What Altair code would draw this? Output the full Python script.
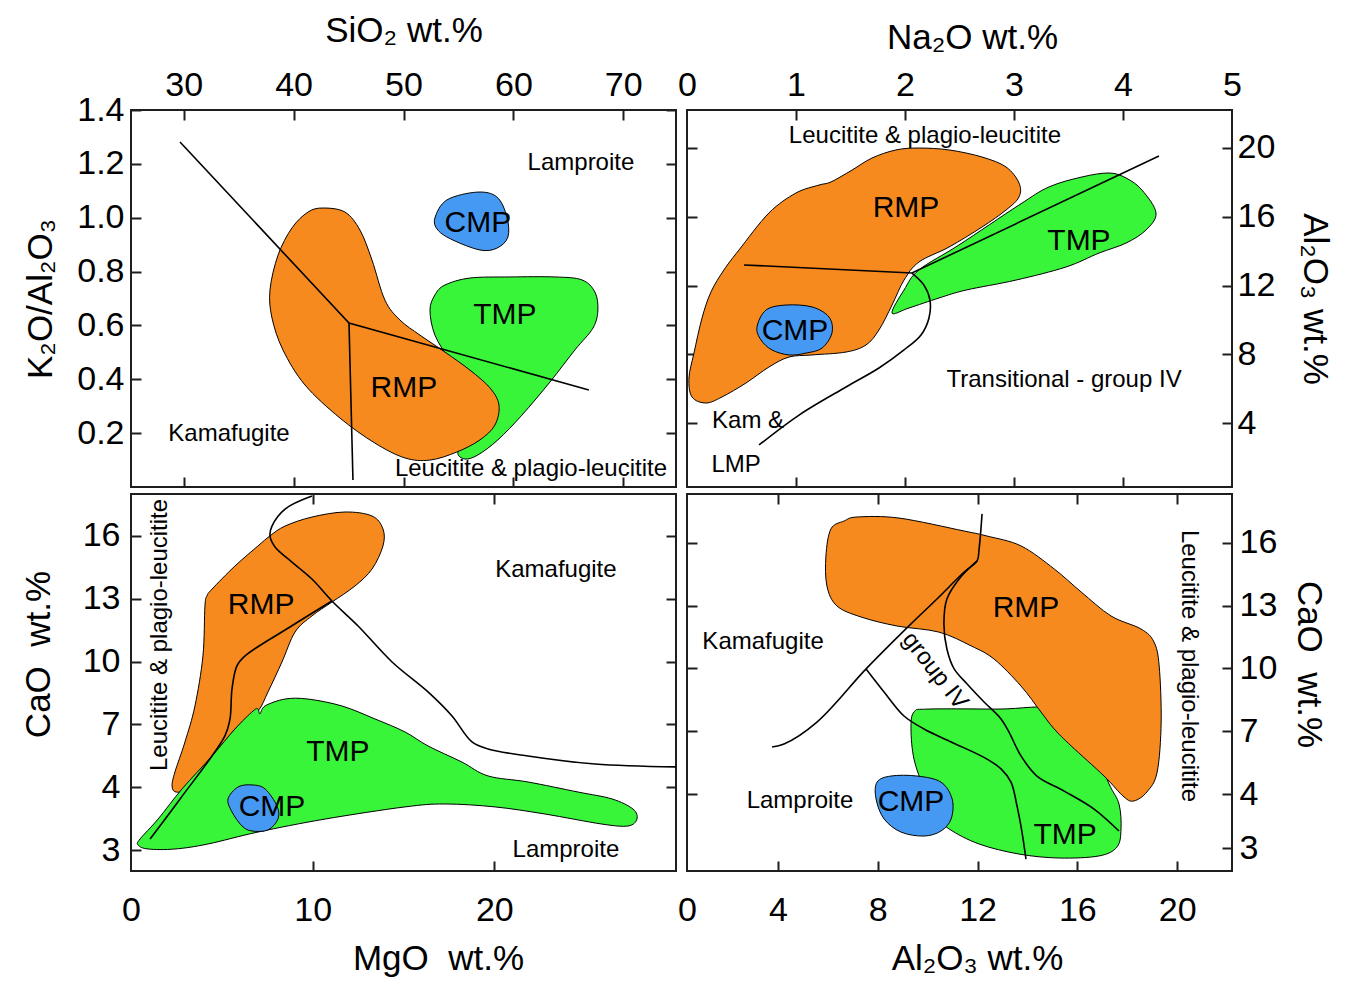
import altair as alt
import pandas as pd

FONT = "Liberation Sans"
ORANGE = "#F78A1E"
GREEN = "#38F53A"
BLUE = "#4599F2"
INK = "#1e1e1e"
W, H = 545, 377

# ---------------- Top-left: SiO2 vs K2O/Al2O3 ----------------
tl_rmp_x = [42.67, 44.67, 46.04, 47.13, 48.31, 49.68, 51.50, 53.77, 56.05, 57.87, 58.69, 58.32, 56.96,
            54.86, 52.41, 50.13, 47.40, 44.22, 41.03, 39.03, 38.03, 37.85, 38.58, 39.85, 41.31]
tl_rmp_y = [1.036, 1.021, 0.954, 0.843, 0.694, 0.620, 0.564, 0.501, 0.434, 0.368, 0.304, 0.230, 0.175,
            0.130, 0.100, 0.108, 0.163, 0.256, 0.379, 0.509, 0.628, 0.732, 0.861, 0.962, 1.021]
tl_tmp_x = [53.77, 56.05, 59.69, 63.78, 66.24, 67.42, 67.69, 67.24, 65.60, 63.33, 60.78, 58.59, 56.77,
            55.59, 54.95, 56.05, 56.77, 56.05, 54.23, 52.86, 52.41, 52.86]
tl_tmp_y = [0.750, 0.776, 0.780, 0.780, 0.769, 0.724, 0.657, 0.590, 0.509, 0.390, 0.267, 0.175, 0.119,
            0.104, 0.130, 0.193, 0.286, 0.379, 0.472, 0.564, 0.657, 0.713]
tl_cmp_x = [52.86, 53.95, 56.68, 58.50, 59.41, 59.50, 58.50, 56.96, 54.50, 53.13]
tl_cmp_y = [0.999, 1.066, 1.095, 1.077, 1.003, 0.928, 0.887, 0.880, 0.917, 0.954]
tl_line1_x = [29.66, 45.04, 66.87]
tl_line1_y = [1.281, 0.609, 0.360]
tl_line2_x = [45.04, 45.40]
tl_line2_y = [0.609, 0.026]
tl_text = ["Lamproite", "CMP", "TMP", "RMP", "Kamafugite", "Leucitite & plagio-leucitite"]
tl_text_x = [66.15, 56.77, 59.23, 50.04, 34.12, 61.60]
tl_text_y = [1.203, 0.980, 0.639, 0.368, 0.197, 0.067]
tl_text_fs = [24, 30, 30, 30, 24, 24]
tl_text_ang = [0, 0, 0, 0, 0, 0]

# ---------------- Top-right: Na2O vs Al2O3 ----------------
tr_rmp_x = [0.046, 0.018, 0.064, 0.138, 0.220, 0.339, 0.477, 0.752, 1.000, 1.211, 1.321, 1.514, 1.697,
            1.917, 2.128, 2.404, 2.706, 2.927, 3.046, 3.046, 2.927, 2.706, 2.404, 2.128, 1.991, 1.881,
            1.761, 1.642, 1.459, 1.147, 0.936, 0.752, 0.541, 0.321, 0.174]
tr_rmp_y = [5.53, 6.63, 8.08, 10.12, 11.63, 12.91, 14.07, 16.22, 17.38, 17.84, 18.02, 18.71, 19.41,
            19.88, 19.99, 19.88, 19.47, 18.89, 17.96, 17.15, 16.39, 15.40, 14.24, 13.37, 12.32, 10.87,
            9.42, 8.55, 8.14, 7.97, 7.85, 7.27, 6.34, 5.53, 5.18]
tr_tmp_x = [1.881, 1.991, 2.128, 2.495, 3.046, 3.321, 3.624, 3.872, 4.028, 4.174, 4.303, 4.211, 4.028,
            3.780, 3.477, 3.018, 2.560, 2.312, 2.037]
tr_tmp_y = [10.41, 11.74, 12.91, 14.36, 16.68, 17.73, 18.31, 18.54, 18.25, 17.55, 16.22, 15.23, 14.47,
            13.89, 13.08, 12.32, 11.74, 11.28, 10.70]
tr_cmp_x = [0.642, 0.725, 0.908, 1.147, 1.303, 1.330, 1.239, 1.092, 0.936, 0.780, 0.679]
tr_cmp_y = [9.59, 10.58, 10.87, 10.76, 10.17, 9.25, 8.37, 8.08, 7.97, 8.26, 8.84]
tr_line1_x = [0.523, 2.064, 4.330]
tr_line1_y = [13.20, 12.73, 19.53]
tr_line2_x = [2.064, 2.174, 2.229, 2.220, 2.147, 1.991, 1.761, 1.459, 1.028, 0.661]
tr_line2_y = [12.73, 12.03, 11.16, 10.12, 9.13, 8.26, 7.21, 6.11, 4.48, 2.74]
tr_text = ["Leucitite & plagio-leucitite", "RMP", "TMP", "CMP", "Transitional - group IV", "Kam &", "LMP"]
tr_text_x = [2.183, 2.009, 3.596, 0.991, 3.459, 0.560, 0.450]
tr_text_y = [20.69, 16.51, 14.59, 9.36, 6.52, 4.13, 1.58]
tr_text_fs = [24, 30, 30, 30, 24, 24, 24]
tr_text_ang = [0, 0, 0, 0, 0, 0, 0]

# ---------------- Bottom-left: MgO vs CaO ----------------
bl_rmp_x = [4.18, 4.46, 5.72, 6.99, 7.65, 8.48, 9.96, 11.78, 13.27, 13.87, 13.87, 13.27, 12.33, 11.06,
            9.96, 9.03, 8.31, 7.54, 6.99, 6.00, 4.62, 3.14, 2.48, 2.26, 2.42, 2.97, 3.52, 3.96, 4.07]
bl_rmp_y = [13.13, 13.46, 14.56, 15.52, 16.00, 16.47, 16.90, 17.14, 16.95, 16.33, 15.52, 14.42, 13.61,
            12.84, 12.18, 11.41, 9.98, 8.55, 7.64, 7.02, 5.59, 4.01, 3.77, 4.06, 4.73, 6.16, 7.88, 10.27,
            12.65]
bl_tmp_x = [0.50, 1.49, 2.81, 4.46, 5.72, 6.72, 6.99, 7.10, 7.38, 8.48, 9.74, 11.61, 13.43, 15.08, 16.35,
            18.22, 19.65, 21.85, 24.61, 26.48, 27.63, 27.85, 27.36, 25.93, 22.79, 20.04, 17.28, 15.08,
            10.68, 6.99, 4.24, 2.42, 0.94, 0.39]
bl_tmp_y = [1.53, 2.48, 3.92, 5.49, 6.78, 7.64, 7.73, 7.50, 7.88, 8.21, 8.21, 7.88, 7.26, 6.64, 5.97,
            5.20, 4.54, 4.25, 3.77, 3.44, 2.96, 2.48, 2.15, 2.24, 2.72, 3.06, 3.20, 3.06, 2.48, 1.86, 1.29,
            1.05, 1.05, 1.24]
bl_cmp_x = [5.34, 5.89, 6.66, 7.38, 8.04, 8.09, 7.54, 6.66, 6.11, 5.56]
bl_cmp_y = [3.44, 4.01, 4.11, 3.92, 3.10, 2.48, 1.96, 1.91, 2.15, 2.82]
bl_line1_x = [1.05, 2.70, 5.17, 5.45, 5.56, 5.83, 6.28, 8.75, 11.06]
bl_line1_y = [1.53, 3.44, 6.45, 7.26, 8.69, 9.79, 10.27, 11.65, 12.89]
bl_line2_x = [9.96, 8.48, 7.76, 7.65, 7.93, 8.86, 9.96, 11.06, 12.50, 14.37, 16.35, 17.67, 18.77, 19.65,
              21.85, 25.54, 30.0]
bl_line2_y = [17.90, 17.28, 16.47, 16.00, 15.47, 14.75, 13.94, 12.89, 11.70, 9.98, 8.55, 7.40, 6.16,
              5.83, 5.49, 5.11, 4.97]
bl_text = ["RMP", "Kamafugite", "TMP", "CMP", "Lamproite", "Leucitite & plagio-leucitite"]
bl_text_x = [7.16, 23.39, 11.39, 7.76, 23.94, 1.60]
bl_text_y = [12.70, 14.37, 5.68, 3.06, 1.00, 11.27]
bl_text_fs = [30, 24, 30, 30, 24, 24]
bl_text_ang = [0, 0, 0, 0, 0, 270]

# ---------------- Bottom-right: Al2O3 vs CaO ----------------
br_rmp_x = [6.12, 6.65, 7.17, 8.85, 11.46, 12.38, 13.74, 15.07, 16.15, 17.35, 18.55, 19.07, 19.28,
            19.36, 19.20, 18.79, 18.27, 17.87, 17.07, 15.75, 15.07, 14.54, 13.74, 12.66, 11.74, 10.45,
            8.77, 7.33, 6.36, 5.96, 5.92]
br_rmp_y = [16.67, 17.05, 17.24, 17.19, 16.57, 16.33, 15.86, 14.76, 13.66, 12.51, 11.89, 11.27, 10.12,
            7.44, 5.05, 4.10, 3.67, 3.86, 4.86, 6.30, 7.11, 7.92, 9.16, 10.45, 11.08, 11.74, 12.03, 12.46,
            12.99, 13.94, 15.38]
br_tmp_x = [9.45, 10.05, 12.86, 15.27, 16.47, 17.27, 17.67, 17.75, 17.59, 16.87, 15.27, 13.66, 12.06,
            10.86, 10.25, 9.85, 9.45, 9.33]
br_tmp_y = [7.92, 8.06, 8.06, 8.06, 6.63, 4.48, 3.52, 2.33, 1.47, 1.04, 0.94, 1.13, 1.61, 2.33, 3.04,
            4.24, 5.67, 7.11]
br_cmp_x = [7.97, 8.53, 9.57, 10.53, 10.98, 10.94, 10.53, 9.85, 8.93, 8.25, 7.93]
br_cmp_y = [4.57, 4.86, 4.86, 4.57, 3.76, 2.81, 2.23, 1.99, 2.18, 2.81, 3.76]
br_line1_x = [3.76, 4.24, 5.56, 7.53, 9.33, 10.37, 11.46, 11.98, 12.06, 12.18]
br_line1_y = [6.25, 6.39, 7.44, 9.98, 12.13, 13.32, 14.61, 15.14, 15.71, 17.39]
br_line2_x = [7.53, 8.25, 9.05, 9.85, 10.94, 12.38, 12.94, 13.34, 13.58, 13.78, 13.94]
br_line2_y = [9.98, 8.88, 7.73, 7.11, 6.49, 5.67, 5.20, 4.57, 3.43, 2.18, 0.89]
br_line3_x = [11.98, 11.26, 10.77, 10.65, 10.77, 11.06, 11.58, 12.26, 12.94, 13.26, 13.74, 14.38,
              15.47, 16.67, 17.67]
br_line3_y = [15.14, 14.28, 13.32, 12.13, 10.93, 9.98, 9.26, 8.40, 7.59, 6.96, 5.82, 4.86, 4.14, 3.28,
              2.23]
br_text = ["RMP", "Kamafugite", "group IV", "Lamproite", "CMP", "TMP", "Leucitite & plagio-leucitite"]
br_text_x = [13.94, 3.40, 10.29, 4.88, 9.33, 15.51, 20.48]
br_text_y = [12.89, 11.27, 9.88, 3.67, 3.62, 2.04, 10.12]
br_text_fs = [30, 24, 24, 24, 30, 30, 24]
br_text_ang = [0, 0, 52, 0, 0, 0, 90]


def pts(xs, ys):
    return pd.DataFrame({"x": xs, "y": ys, "i": list(range(len(xs)))})


def lab_axis(orient, values, title, label_pad, title_pad, **kw):
    return alt.Axis(orient=orient, values=values, title=title, ticks=False, tickSize=0, domain=False,
                    grid=False, labelFont=FONT, labelFontSize=34, labelColor="black", labelFlush=False,
                    labelOverlap=False, labelPadding=label_pad, titleFont=FONT, titleFontSize=35,
                    titleFontWeight="normal", titleColor="black", titlePadding=title_pad, **kw)


def tick_axis(orient, values):
    return alt.Axis(orient=orient, values=values, title=None, labels=False, domain=False, grid=False,
                    ticks=True, tickSize=10, tickWidth=2, tickColor=INK, offset=-10)


def panel(xsc, ysc, polys, lines, texts, xaxes, yaxes):
    layers = []
    for xs, ys, col in polys:
        layers.append(
            alt.Chart(pts(xs, ys)).mark_line(fill=col, stroke="black", strokeWidth=1,
                                             interpolate="cardinal-closed").encode(
                x=alt.X("x:Q", scale=xsc, axis=None),
                y=alt.Y("y:Q", scale=ysc, axis=None),
                order=alt.Order("i:Q")))
    for xs, ys, interp in lines:
        layers.append(
            alt.Chart(pts(xs, ys)).mark_line(color="black", strokeWidth=1.6, interpolate=interp).encode(
                x=alt.X("x:Q", scale=xsc, axis=None),
                y=alt.Y("y:Q", scale=ysc, axis=None),
                order=alt.Order("i:Q")))
    labels, tx, ty, fs, ang = texts
    tdf = pd.DataFrame({"label": labels, "x": tx, "y": ty, "fs": fs, "ang": ang})
    layers.append(
        alt.Chart(tdf).mark_text(font=FONT, color="black", align="center", baseline="middle").encode(
            x=alt.X("x:Q", scale=xsc, axis=None),
            y=alt.Y("y:Q", scale=ysc, axis=None),
            text="label:N",
            size=alt.Size("fs:Q", scale=None),
            angle=alt.Angle("ang:Q", scale=None)))
    cdf = pts(lines[0][0], lines[0][1])
    for xa, ya in zip(xaxes, yaxes):
        layers.append(
            alt.Chart(cdf).mark_point(opacity=0).encode(
                x=alt.X("x:Q", scale=xsc, axis=xa),
                y=alt.Y("y:Q", scale=ysc, axis=ya)))
    return alt.layer(*layers).resolve_axis(x="independent", y="independent").properties(width=W, height=H)


# Top-left
tl_xs = alt.Scale(domain=[25.2, 74.8], nice=False, zero=False)
tl_ys = alt.Scale(domain=[0, 1.4], nice=False, zero=False)
tl_xv = [30, 40, 50, 60, 70]
tl_yv = [0.2, 0.4, 0.6, 0.8, 1.0, 1.2, 1.4]
tl = panel(
    tl_xs, tl_ys,
    [(tl_tmp_x, tl_tmp_y, GREEN), (tl_rmp_x, tl_rmp_y, ORANGE), (tl_cmp_x, tl_cmp_y, BLUE)],
    [(tl_line1_x, tl_line1_y, "linear"), (tl_line2_x, tl_line2_y, "linear")],
    (tl_text, tl_text_x, tl_text_y, tl_text_fs, tl_text_ang),
    [lab_axis("top", tl_xv, "SiO₂ wt.%", 8, 20), tick_axis("top", tl_xv), tick_axis("bottom", tl_xv)],
    [lab_axis("left", tl_yv, "K₂O/Al₂O₃", 7, 18, format=".1f"), tick_axis("left", tl_yv),
     tick_axis("right", tl_yv)],
)

# Top-right
tr_xs = alt.Scale(domain=[0, 5], nice=False, zero=False)
tr_ys = alt.Scale(domain=[0.3, 22.2], nice=False, zero=False)
tr_yv = [4, 8, 12, 16, 20]
tr = panel(
    tr_xs, tr_ys,
    [(tr_tmp_x, tr_tmp_y, GREEN), (tr_rmp_x, tr_rmp_y, ORANGE), (tr_cmp_x, tr_cmp_y, BLUE)],
    [(tr_line1_x, tr_line1_y, "linear"), (tr_line2_x, tr_line2_y, "catmull-rom")],
    (tr_text, tr_text_x, tr_text_y, tr_text_fs, tr_text_ang),
    [lab_axis("top", [0, 1, 2, 3, 4, 5], "Na₂O wt.%", 8, 13, titleX=285),
     tick_axis("top", [1, 2, 3, 4]), tick_axis("bottom", [1, 2, 3, 4])],
    [lab_axis("right", tr_yv, "Al₂O₃ wt.%", 5, 22), tick_axis("left", tr_yv), tick_axis("right", tr_yv)],
)

# Bottom-left
bl_xs = alt.Scale(domain=[0, 30], nice=False, zero=False)
bl_ys = alt.Scale(domain=[0, 18], nice=False, zero=False)
bl = panel(
    bl_xs, bl_ys,
    [(bl_rmp_x, bl_rmp_y, ORANGE), (bl_tmp_x, bl_tmp_y, GREEN), (bl_cmp_x, bl_cmp_y, BLUE)],
    [(bl_line1_x, bl_line1_y, "catmull-rom"), (bl_line2_x, bl_line2_y, "catmull-rom")],
    (bl_text, bl_text_x, bl_text_y, bl_text_fs, bl_text_ang),
    [lab_axis("bottom", [0, 10, 20], "MgO\u00a0 wt.%", 22, 14, titleX=307),
     tick_axis("top", [10, 20]), tick_axis("bottom", [10, 20])],
    [lab_axis("left", [1, 4, 7, 10, 13, 16], "CaO\u00a0 wt.%", 11, 26, titleY=160,
              labelExpr="datum.value == 1 ? '3' : datum.label"),
     tick_axis("left", [1, 4, 7, 10, 13, 16]), tick_axis("right", [4, 7, 10, 13, 16])],
)

# Bottom-right
br_xs = alt.Scale(domain=[0.35, 22.2], nice=False, zero=False)
br_ys = alt.Scale(domain=[0.32, 18.34], nice=False, zero=False)
br_xv = [4, 8, 12, 16, 20]
br = panel(
    br_xs, br_ys,
    [(br_tmp_x, br_tmp_y, GREEN), (br_rmp_x, br_rmp_y, ORANGE), (br_cmp_x, br_cmp_y, BLUE)],
    [(br_line1_x, br_line1_y, "catmull-rom"), (br_line2_x, br_line2_y, "catmull-rom"),
     (br_line3_x, br_line3_y, "catmull-rom")],
    (br_text, br_text_x, br_text_y, br_text_fs, br_text_ang),
    [lab_axis("bottom", [0.35, 4, 8, 12, 16, 20], "Al₂O₃ wt.%", 22, 14, titleX=290,
              labelExpr="datum.value < 1 ? '0' : datum.label"),
     tick_axis("top", br_xv), tick_axis("bottom", br_xv)],
    [lab_axis("right", [1.4, 4, 7, 10, 13, 16], "CaO\u00a0 wt.%", 7, 14, titleY=170,
              labelExpr="datum.value < 2 ? '3' : datum.label"),
     tick_axis("left", [4, 7, 10, 13, 16]), tick_axis("right", [1.4, 4, 7, 10, 13, 16])],
)

chart = alt.concat(tl, tr, bl, br, columns=2, spacing={"row": 7, "column": 11}, bounds="flush").properties(
    padding={"left": 20, "top": 12, "right": 10, "bottom": 2}
).configure(background="white").configure_view(stroke=INK, strokeWidth=2)

chart.save("out.html", embed_options={"renderer": "svg", "actions": False})
